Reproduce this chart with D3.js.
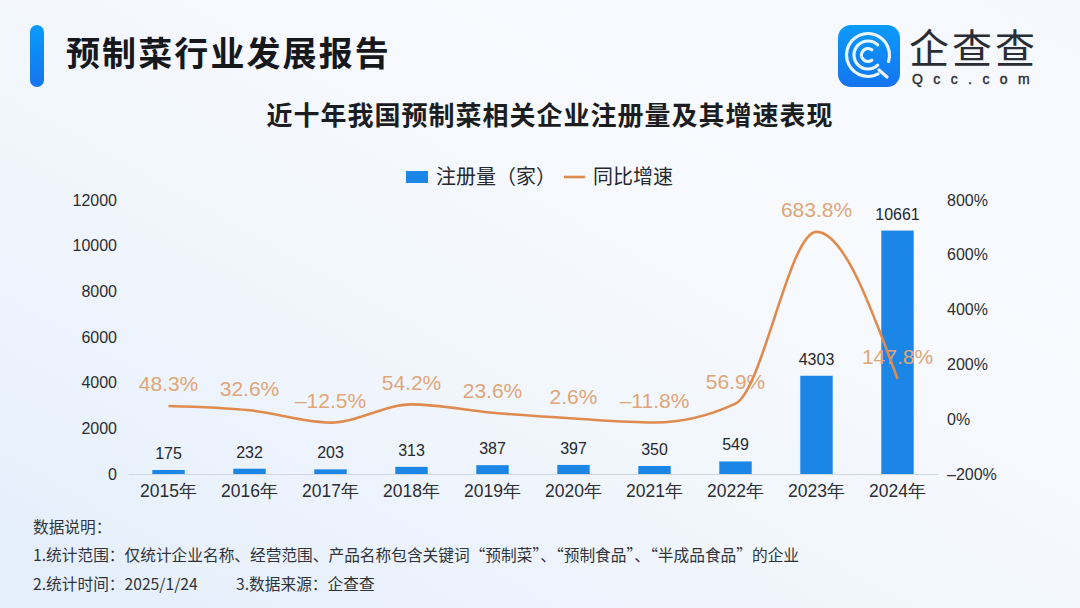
<!DOCTYPE html>
<html>
<head>
<meta charset="utf-8">
<script src="https://cdn.jsdelivr.net/npm/d3@7"></script>
<style>
  html, body { margin: 0; padding: 0; background: #f4f7fd; }
  svg { display: block; font-family: "Liberation Sans", "Noto Sans CJK SC", sans-serif; }
</style>
</head>
<body>
<svg id="chart"></svg>
<script>
const years = ["2015年", "2016年", "2017年", "2018年", "2019年", "2020年", "2021年", "2022年", "2023年", "2024年"];
const registrations = [175, 232, 203, 313, 387, 397, 350, 549, 4303, 10661];
const growth = [48.3, 32.6, -12.5, 54.2, 23.6, 2.6, -11.8, 56.9, 683.8, 147.8];
const growthLabels = ["48.3%", "32.6%", "–12.5%", "54.2%", "23.6%", "2.6%", "–11.8%", "56.9%", "683.8%", "147.8%"];
const leftTicks = [0, 2000, 4000, 6000, 8000, 10000, 12000];
const rightTicks = [-200, 0, 200, 400, 600, 800];
const notes = [
  "数据说明：",
  "1.统计范围：仅统计企业名称、经营范围、产品名称包含关键词“预制菜”、“预制食品”、“半成品食品”的企业",
  "2.统计时间：2025/1/24"
];

const width = 1080;
const height = 608;
const margin = { top: 200, right: 142, bottom: 134, left: 128 };
const cjk = '"Noto Sans CJK SC", sans-serif';

const svg = d3.select("#chart").attr("width", width).attr("height", height);
const defs = svg.append("defs");

// Background: pale wash, bluer in the lower left corner
const bg = defs.append("linearGradient").attr("id", "bg")
  .attr("x1", 0).attr("y1", 1).attr("x2", 1).attr("y2", 0);
bg.append("stop").attr("offset", "0%").attr("stop-color", "#e3eefb");
bg.append("stop").attr("offset", "35%").attr("stop-color", "#f0f5fd");
bg.append("stop").attr("offset", "70%").attr("stop-color", "#f8fafe");
bg.append("stop").attr("offset", "100%").attr("stop-color", "#f5f8fd");
svg.append("rect").attr("width", width).attr("height", height).attr("fill", "url(#bg)");

const barGrad = defs.append("linearGradient").attr("id", "accent")
  .attr("x1", 0).attr("y1", 0).attr("x2", 0).attr("y2", 1);
barGrad.append("stop").attr("offset", "0%").attr("stop-color", "#0a9bfb");
barGrad.append("stop").attr("offset", "100%").attr("stop-color", "#1574ee");

// Header
svg.append("rect").attr("x", 30).attr("y", 25).attr("width", 14).attr("height", 62)
  .attr("rx", 7).attr("fill", "url(#accent)");
svg.append("text").attr("x", 66).attr("y", 66)
  .attr("font-family", cjk).attr("font-size", 34).attr("font-weight", 700)
  .attr("letter-spacing", 2.1).attr("fill", "#16181c").text("预制菜行业发展报告");
svg.append("text").attr("x", 550).attr("y", 125).attr("text-anchor", "middle")
  .attr("font-family", cjk).attr("font-size", 26).attr("font-weight", 700)
  .attr("letter-spacing", 1).attr("fill", "#1b1d21").text("近十年我国预制菜相关企业注册量及其增速表现");

// Logo
const logo = svg.append("g").attr("transform", "translate(838,25)");
logo.append("rect").attr("width", 62).attr("height", 62).attr("rx", 13).attr("fill", "url(#accent)");
[[21.5, 0.82, 2.62], [14, 0.72, 2.28], [6.5, 0.72, 2.28]].forEach(([r, a0, a1]) => {
  const arc = d3.arc().innerRadius(r - 1.6).outerRadius(r + 1.6)
    .startAngle(Math.PI * a0).endAngle(Math.PI * a1).cornerRadius(1.6);
  logo.append("path").attr("transform", "translate(30,30)").attr("d", arc()).attr("fill", "#eaf6ff");
});
logo.append("line").attr("x1", 41).attr("y1", 45).attr("x2", 49).attr("y2", 52)
  .attr("stroke", "#eaf6ff").attr("stroke-width", 3.2).attr("stroke-linecap", "round");
svg.append("text").attr("x", 909).attr("y", 63).attr("font-size", 40)
  .attr("letter-spacing", 3).attr("fill", "#2a2d33").text("企查查");
svg.append("text").attr("x", 912).attr("y", 84).attr("font-family", '"Liberation Sans", sans-serif')
  .attr("font-size", 14).attr("letter-spacing", 10.4)
  .attr("fill", "#2a2d33").attr("stroke", "#2a2d33").attr("stroke-width", 0.4).text("Qcc.com");

// Scales
const x = d3.scaleBand().domain(years).range([margin.left, width - margin.right]).paddingInner(0.6).paddingOuter(0.3);
const yLeft = d3.scaleLinear().domain([0, 12000]).range([height - margin.bottom, margin.top]);
const yRight = d3.scaleLinear().domain([-200, 800]).range([height - margin.bottom, margin.top]);
const cx = d => x(d) + x.bandwidth() / 2;

// Axes
const xAxis = svg.append("g").attr("transform", `translate(0,${height - margin.bottom})`)
  .call(d3.axisBottom(x).tickSize(0).tickPadding(11));
xAxis.select(".domain").attr("stroke", "#cfd7e2");
xAxis.selectAll("text").attr("font-family", null).attr("font-size", 17.5).attr("fill", "#2b2e33");

const leftAxis = svg.append("g").attr("transform", `translate(${margin.left},0)`)
  .call(d3.axisLeft(yLeft).tickValues(leftTicks).tickSize(0).tickPadding(11).tickFormat(d3.format("d")));
leftAxis.select(".domain").remove();
leftAxis.selectAll("text").attr("font-family", null).attr("font-size", 16).attr("fill", "#2b2e33");

const rightAxis = svg.append("g").attr("transform", `translate(${width - margin.right},0)`)
  .call(d3.axisRight(yRight).tickValues(rightTicks).tickSize(0).tickPadding(9)
    .tickFormat(d => (d < 0 ? "–" + Math.abs(d) : d) + "%"));
rightAxis.select(".domain").remove();
rightAxis.selectAll("text").attr("font-family", null).attr("font-size", 16).attr("fill", "#2b2e33");

// Bars and their labels
svg.append("g").selectAll("rect").data(years).join("rect")
  .attr("x", d => x(d))
  .attr("y", (d, i) => yLeft(registrations[i]))
  .attr("width", x.bandwidth())
  .attr("height", (d, i) => yLeft(0) - yLeft(registrations[i]))
  .attr("fill", "#1c86e6");

svg.append("g").selectAll("text").data(years).join("text")
  .attr("x", cx)
  .attr("y", (d, i) => yLeft(registrations[i]) - 11)
  .attr("text-anchor", "middle")
  .attr("font-size", 16)
  .attr("fill", "#25282d")
  .text((d, i) => registrations[i]);

// Growth labels sit under the line
svg.append("g").selectAll("text").data(years).join("text")
  .attr("x", cx)
  .attr("y", (d, i) => yRight(growth[i]) - 14.5)
  .attr("text-anchor", "middle")
  .attr("font-size", 21)
  .attr("fill", "#dfa678")
  .text((d, i) => growthLabels[i]);

const line = d3.line()
  .x(d => cx(d.year))
  .y(d => yRight(d.value))
  .curve(d3.curveMonotoneX);

svg.append("path")
  .datum(years.map((year, i) => ({ year, value: growth[i] })))
  .attr("d", line)
  .attr("fill", "none")
  .attr("stroke", "#e08b4e")
  .attr("stroke-width", 2.6);

// Legend
const legend = svg.append("g").attr("font-family", cjk).attr("font-size", 20).attr("fill", "#26292e");
legend.append("rect").attr("x", 406).attr("y", 171).attr("width", 22).attr("height", 12).attr("fill", "#1c86e6");
legend.append("text").attr("x", 436).attr("y", 184).text("注册量（家）");
legend.append("line").attr("x1", 564).attr("x2", 585).attr("y1", 177).attr("y2", 177)
  .attr("stroke", "#e08b4e").attr("stroke-width", 2.6);
legend.append("text").attr("x", 593).attr("y", 184).text("同比增速");

// Notes
const noteG = svg.append("g").attr("font-family", cjk).attr("font-size", 15.7).attr("fill", "#30343a");
noteG.selectAll("text").data(notes).join("text")
  .attr("x", 33)
  .attr("y", (d, i) => 532.5 + i * 28.5)
  .text(d => d);
noteG.append("text").attr("x", 236).attr("y", 589.5).text("3.数据来源：企查查");
</script>
</body>
</html>
